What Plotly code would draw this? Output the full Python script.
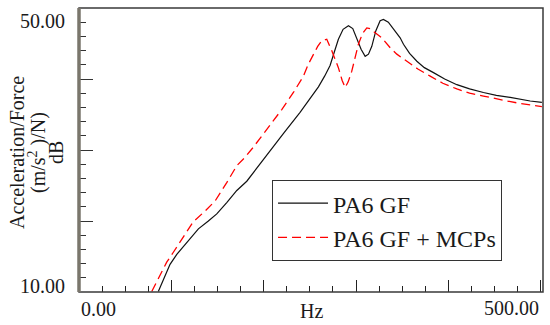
import plotly.graph_objects as go

# Frequency (Hz) and FRF level (dB)
hz_gf = [85.9, 91.3, 98.6, 105.9, 116.7, 129.3, 140.1, 149.2, 160.0, 170.9, 181.7,
         190.0, 203.4, 221.3, 239.4, 250.3, 259.3, 266.0, 271.9, 276.5, 280.9, 286.0,
         291.8, 296.5, 300.9, 305.5, 309.9, 313.5, 317.1, 321.5, 326.1, 329.7, 335.0,
         340.5, 347.8, 351.4, 358.0, 365.9, 374.0, 383.9, 396.0, 409.2, 423.0, 438.0,
         452.0, 467.0, 478.0, 488.6, 501.3]
db_gf = [10.07, 11.8, 13.9, 15.3, 17.0, 18.9, 20.0, 21.0, 22.6, 24.3, 25.6,
         27.0, 29.4, 32.3, 35.3, 37.2, 38.9, 40.4, 41.9, 43.8, 45.6, 47.0,
         47.5, 47.1, 45.8, 44.2, 43.2, 43.5, 44.6, 46.8, 48.2, 48.4, 48.0,
         47.0, 45.8, 44.9, 43.6, 42.5, 41.6, 40.9, 40.0, 39.2, 38.6, 38.1,
         37.7, 37.4, 37.1, 36.9, 36.7]

hz_mcp = [78.8, 87.8, 95.0, 102.2, 114.8, 123.8, 136.5, 147.3, 160.0, 170.9, 180.0,
          188.8, 203.4, 219.6, 232.2, 243.0, 248.4, 253.8, 258.5, 262.9, 268.3, 273.7,
          277.5, 280.9, 285.0, 288.2, 291.5, 295.4, 299.0, 302.6, 307.0, 311.7, 315.5,
          318.9, 328.0, 337.0, 344.2, 355.0, 367.0, 380.3, 394.0, 409.2, 423.0, 438.0,
          451.0, 463.4, 476.0, 488.6, 501.3]
db_mcp = [10.07, 12.3, 14.2, 15.6, 18.2, 19.9, 21.4, 22.8, 25.4, 27.8, 29.0,
          30.4, 32.9, 35.7, 38.1, 40.4, 42.1, 43.5, 44.6, 45.4, 45.6, 44.0,
          42.8, 41.6, 39.8, 38.8, 39.6, 41.1, 43.0, 44.9, 46.4, 47.2, 47.1,
          46.7, 45.8, 44.4, 43.5, 42.5, 41.4, 40.4, 39.4, 38.6, 38.0, 37.6,
          37.2, 36.9, 36.6, 36.3, 36.1]

series_names = ["PA6 GF", "PA6 GF + MCPs"]
x_range = [0, 502.5]
y_range = [10, 50]
x_tick_labels = ["0.00", "500.00"]
y_tick_labels = ["50.00", "10.00"]
x_title = "Hz"
y_title_lines = ["Acceleration/Force", "(m/s<sup>2</sup> )/N)", "dB"]

FONT = "Liberation Serif"
TXT = "#1a1a1a"

fig = go.Figure()
fig.add_trace(go.Scatter(x=hz_gf, y=db_gf, mode="lines", name=series_names[0],
                         line=dict(color="#111111", width=1.2)))
fig.add_trace(go.Scatter(x=hz_mcp, y=db_mcp, mode="lines", name=series_names[1],
                         line=dict(color="#ff0000", width=1.3, dash="9px,5px")))

fig.update_layout(
    width=550, height=325,
    margin=dict(l=79, r=7, t=8, b=33),
    paper_bgcolor="white", plot_bgcolor="white",
    font=dict(family=FONT, size=20, color=TXT),
    showlegend=True,
    legend=dict(x=0.416, y=0.394, xanchor="left", yanchor="top",
                bgcolor="white", bordercolor="#333333", borderwidth=1,
                itemwidth=50,
                font=dict(family=FONT, size=24, color=TXT)),
    xaxis=dict(range=x_range, showgrid=False, zeroline=False, showticklabels=False,
               ticks="inside", ticklen=12, tickcolor="#222222", tickwidth=1.3,
               dtick=100, tick0=0,
               minor=dict(ticks="inside", ticklen=6, dtick=25, tickcolor="#222222", tickwidth=1.3),
               showline=False),
    yaxis=dict(range=y_range, showgrid=False, zeroline=False, showticklabels=False,
               ticks="inside", ticklen=14, tickcolor="#333333", tickwidth=1.3,
               dtick=10, tick0=0,
               minor=dict(ticks="inside", ticklen=7, dtick=2, tickcolor="#333333", tickwidth=1.3),
               showline=False),
)

# frame
fig.add_shape(type="rect", xref="paper", yref="paper", x0=0, y0=0, x1=1, y1=1,
              line=dict(color="#3a3a3a", width=1.5), layer="above")
fig.add_shape(type="line", xref="paper", yref="paper", x0=0, y0=0, x1=0, y1=1,
              line=dict(color="#7a766c", width=3.5), layer="above")

ann = []
ann.append(dict(x=0, xref="paper", y=y_range[1], yref="y", text=y_tick_labels[0],
                xanchor="right", yanchor="top", xshift=-12, showarrow=False))
ann.append(dict(x=0, xref="paper", y=y_range[0], yref="y", text=y_tick_labels[1],
                xanchor="right", yanchor="middle", xshift=-12, yshift=6, showarrow=False))
ann.append(dict(x=x_range[0], xref="x", y=0, yref="paper", text=x_tick_labels[0],
                xanchor="left", yanchor="top", yshift=-4, showarrow=False))
ann.append(dict(x=500, xref="x", y=0, yref="paper", text=x_tick_labels[1],
                xanchor="right", yanchor="top", yshift=-3, showarrow=False))
ann.append(dict(x=0.5, xref="paper", y=0, yref="paper", text=x_title,
                xanchor="center", yanchor="top", yshift=-6, showarrow=False))
for i, (line, xs) in enumerate(zip(y_title_lines, [-62, -42, -23])):
    ann.append(dict(x=0, xref="paper", y=0.5, yref="paper", text=line, textangle=-90,
                    xanchor="center", yanchor="middle", xshift=xs, yshift=-3,
                    showarrow=False, font=dict(family=FONT, size=20, color=TXT)))
fig.update_layout(annotations=ann)

fig.write_html("out.html", config={"displayModeBar": False},
               post_script="document.body.style.margin='0';document.body.style.padding='0';")
